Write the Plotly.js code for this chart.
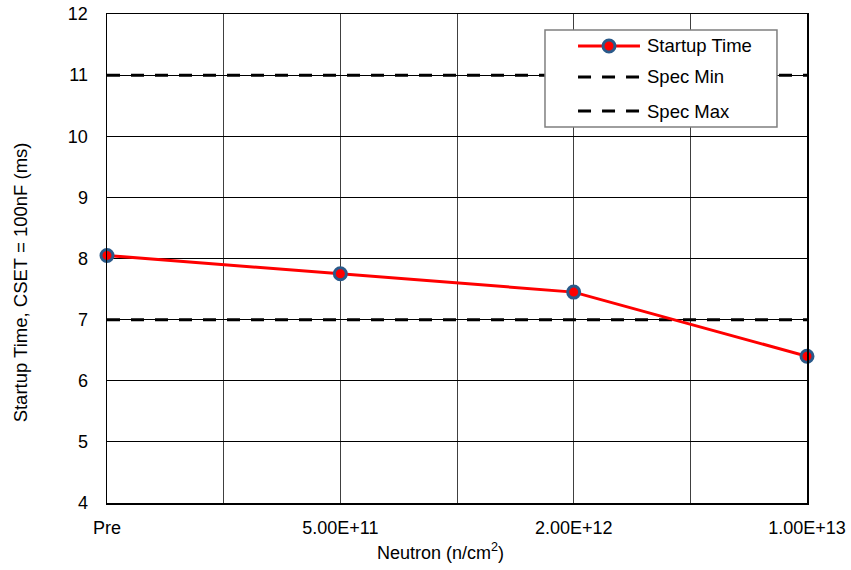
<!DOCTYPE html>
<html>
<head>
<meta charset="utf-8">
<script src="https://cdn.plot.ly/plotly-3.0.1.min.js"></script>
<style>
  html, body { margin: 0; padding: 0; background: #fff; }
  #chart { width: 851px; height: 570px; }
</style>
</head>
<body>
<div id="chart"></div>
<script>
// Neutron fluence levels and measured startup time
const categories = ['Pre', '5.00E+11', '2.00E+12', '1.00E+13'];
const startupTime = [8.05, 7.75, 7.45, 6.4];
const specMin = [7, 7, 7, 7];
const specMax = [11, 11, 11, 11];
const yTicks = [4, 5, 6, 7, 8, 9, 10, 11, 12];

// Categories are placed at integer positions; gridlines also fall halfway between
const xPos = categories.map((_, i) => i);
const tickVals = [];
const tickText = [];
categories.forEach((c, i) => {
  tickVals.push(i);
  tickText.push(c);
  if (i < categories.length - 1) {
    tickVals.push(i + 0.5);
    tickText.push('');
  }
});

const font = { family: 'Liberation Sans, Arial, sans-serif', color: '#000' };
const f = (size) => Object.assign({ size: size }, font);

const seriesLine = { color: '#ff0000', width: 3 };
const seriesMarker = { color: '#ff0000', size: 12, line: { color: '#2a5a8a', width: 3 } };
const specLine = { color: '#000', width: 3, dash: '13px,11px' };

const traces = [
  { x: xPos, y: specMin, name: 'Spec Min', mode: 'lines', line: specLine, hoverinfo: 'skip' },
  { x: xPos, y: specMax, name: 'Spec Max', mode: 'lines', line: specLine, hoverinfo: 'skip' },
  {
    x: xPos, y: startupTime, name: 'Startup Time', mode: 'lines+markers',
    line: seriesLine, marker: seriesMarker, cliponaxis: false
  }
];

// Boxed legend in the upper right of the plot, built from the trace styles
const legendBox = { x0: 0.6257, x1: 0.9571, y0: 0.7689, y1: 0.9673 };
const sample = { x0: 0.6729, x1: 0.7614 };
const labelX = 0.7686;
const rowY = [0.9346, 0.8712, 0.8016];
const legendEntries = [traces[2], traces[0], traces[1]];

const shapes = [{
  type: 'rect', xref: 'paper', yref: 'paper', layer: 'above',
  x0: legendBox.x0, x1: legendBox.x1, y0: legendBox.y0, y1: legendBox.y1,
  fillcolor: '#fff', line: { color: '#7f7f7f', width: 1.5 }
}];
const annotations = [];
legendEntries.forEach((tr, i) => {
  shapes.push({
    type: 'line', xref: 'paper', yref: 'paper', layer: 'above',
    x0: sample.x0, x1: sample.x1, y0: rowY[i], y1: rowY[i],
    line: tr.line
  });
  if (tr.marker) {
    const r = tr.marker.size / 2;
    shapes.push({
      type: 'circle', xref: 'paper', yref: 'paper', layer: 'above',
      xsizemode: 'pixel', ysizemode: 'pixel',
      xanchor: (sample.x0 + sample.x1) / 2, yanchor: rowY[i],
      x0: -r, x1: r, y0: -r, y1: r,
      fillcolor: tr.marker.color, line: tr.marker.line
    });
  }
  annotations.push({
    text: tr.name, showarrow: false, xref: 'paper', yref: 'paper',
    x: labelX, y: rowY[i], xanchor: 'left', yanchor: 'middle', font: f(18.5)
  });
});

annotations.push(
  {
    text: 'Neutron (n/cm<sup>2</sup>)', showarrow: false,
    xref: 'paper', yref: 'paper', x: 0.477, y: -0.1, yanchor: 'middle',
    font: f(18)
  },
  {
    text: 'Startup Time, CSET = 100nF (ms)', showarrow: false, textangle: -90,
    xref: 'paper', yref: 'paper', x: -0.123, y: 0.451, xanchor: 'center', yanchor: 'middle',
    font: f(18.5)
  }
);

const layout = {
  width: 851, height: 570,
  margin: { l: 107, r: 44, t: 14, b: 67 },
  paper_bgcolor: '#fff', plot_bgcolor: '#fff',
  font: f(18),
  showlegend: false,
  xaxis: {
    range: [0, categories.length - 1],
    tickmode: 'array', tickvals: tickVals, ticktext: tickText,
    showgrid: true, gridcolor: '#404040', gridwidth: 1,
    showline: true, linecolor: '#000', linewidth: 1.5, mirror: true,
    zeroline: false, ticks: '', ticklen: 0, ticklabelstandoff: 8,
    tickfont: f(18)
  },
  yaxis: {
    range: [4, 12], tickmode: 'array', tickvals: yTicks,
    showgrid: true, gridcolor: '#000', gridwidth: 1,
    showline: true, linecolor: '#000', linewidth: 1.5, mirror: true,
    zeroline: false, ticks: '', ticklen: 0, ticklabelstandoff: 14,
    tickfont: f(18)
  },
  shapes: shapes,
  annotations: annotations
};

Plotly.newPlot('chart', traces, layout, { displayModeBar: false, staticPlot: true });
</script>
</body>
</html>
